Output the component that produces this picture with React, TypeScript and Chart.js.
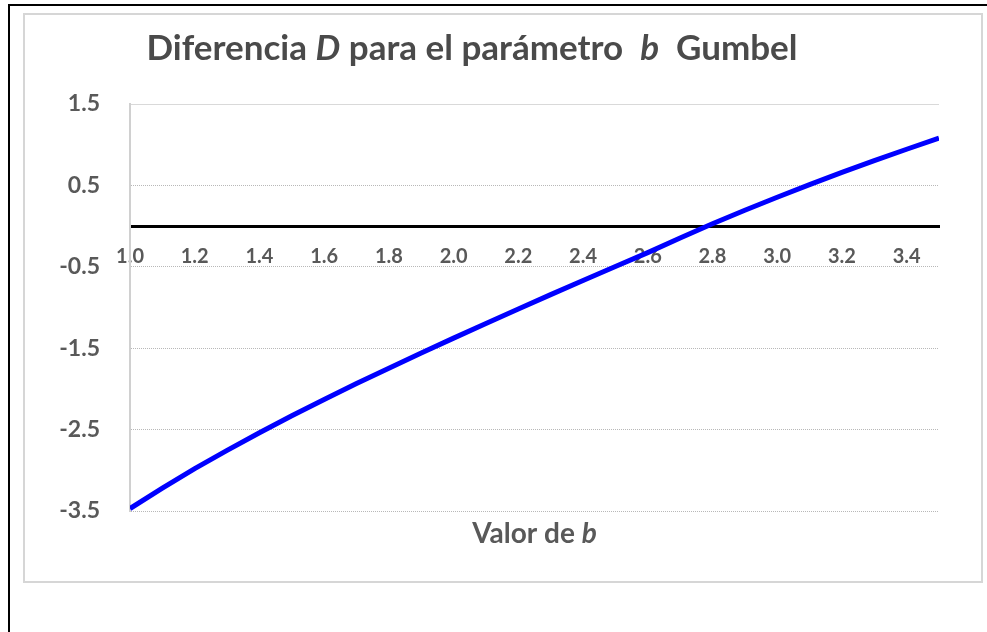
import React, { useEffect, useRef } from 'react';
import { Chart, registerables } from 'chart.js';

Chart.register(...registerables);

// ---- data ----
const bValues = [1.0, 1.1, 1.2, 1.3, 1.4, 1.5, 1.6, 1.7, 1.8, 1.9, 2.0, 2.1, 2.2, 2.3, 2.4, 2.5, 2.6, 2.7, 2.8, 2.9, 3.0, 3.1, 3.2, 3.3, 3.4, 3.5];
const dValues = [-3.47, -3.22, -2.98, -2.755, -2.538, -2.33, -2.13, -1.935, -1.745, -1.559, -1.376, -1.196, -1.018, -0.842, -0.668, -0.496, -0.326, -0.146, 0.029, 0.194, 0.354, 0.509, 0.659, 0.804, 0.944, 1.08];

const xMin = 1.0;
const xMax = 3.5;
const xStep = 0.2;
const yMin = -3.5;
const yMax = 1.5;
const yStep = 1;

const titleParts = [
  { text: 'Diferencia ', italic: false },
  { text: 'D', italic: true },
  { text: ' para el parámetro  ', italic: false },
  { text: 'b', italic: true },
  { text: '  Gumbel', italic: false },
];
const axisTitleParts = [
  { text: 'Valor de ', italic: false },
  { text: 'b', italic: true },
];

const FONT = 'Lato, "Open Sans", sans-serif';
const TEXT_COLOR = '#595959';

function drawParts(ctx: CanvasRenderingContext2D, parts: { text: string; italic: boolean }[], cx: number, baseline: number, size: number, color: string) {
  const fontFor = (it: boolean) => `${it ? 'italic ' : ''}bold ${size}px ${FONT}`;
  let total = 0;
  const widths = parts.map((p) => {
    ctx.font = fontFor(p.italic);
    const w = ctx.measureText(p.text).width;
    total += w;
    return w;
  });
  let x = cx - total / 2;
  ctx.fillStyle = color;
  ctx.textBaseline = 'alphabetic';
  ctx.textAlign = 'left';
  parts.forEach((p, i) => {
    ctx.font = fontFor(p.italic);
    ctx.fillText(p.text, x, baseline);
    x += widths[i];
  });
}

const decorPlugin = {
  id: 'decor',
  beforeDraw(chart: any) {
    const { ctx, width, height } = chart;
    ctx.save();
    ctx.fillStyle = '#ffffff';
    ctx.fillRect(0, 0, width, height);
    // outer black frame (top + left)
    ctx.fillStyle = '#000000';
    ctx.fillRect(8, 4, width - 8, 2);
    ctx.fillRect(8, 4, 2, height - 4);
    // inner chart-area frame
    ctx.strokeStyle = '#d6d6d6';
    ctx.lineWidth = 2;
    ctx.strokeRect(24, 14, 958, 568);
    ctx.restore();
  },
  afterDraw(chart: any) {
    const { ctx, chartArea } = chart;
    ctx.save();
    drawParts(ctx, titleParts, 472, 60, 35, '#4a4a4a');
    drawParts(ctx, axisTitleParts, (chartArea.left + chartArea.right) / 2, 543, 28, TEXT_COLOR);
    ctx.restore();
  },
};

export default function App() {
  const canvasRef = useRef<HTMLCanvasElement | null>(null);

  useEffect(() => {
    const canvas = canvasRef.current;
    if (!canvas) return;
    const points = bValues.map((b, i) => ({ x: b, y: dValues[i] }));
    const chart = new Chart(canvas, {
      type: 'scatter',
      data: {
        datasets: [
          {
            data: points,
            showLine: true,
            borderColor: '#0000ff',
            backgroundColor: '#0000ff',
            borderWidth: 5,
            pointRadius: 0,
            pointHoverRadius: 0,
            tension: 0,
          },
        ],
      },
      options: {
        responsive: false,
        animation: false,
        events: [],
        layout: { padding: { left: 0, top: 104, right: 48, bottom: 121 } },
        plugins: {
          legend: { display: false },
          tooltip: { enabled: false },
          title: { display: false },
        },
        scales: {
          x: {
            type: 'linear',
            position: { y: 0 } as any,
            min: xMin,
            max: xMax,
            afterFit: (scale: any) => {
              scale.height = 0;
            },
            ticks: {
              stepSize: xStep,
              includeBounds: false,
              autoSkip: false,
              maxRotation: 0,
              minRotation: 0,
              padding: 18,
              color: TEXT_COLOR,
              font: { family: FONT, size: 20, weight: 'bold' },
              callback: (v: any) => Number(v).toFixed(1),
            },
            grid: { display: false, drawTicks: false },
            border: { display: true, color: '#000000', width: 3 },
          },
          y: {
            type: 'linear',
            position: 'left',
            min: yMin,
            max: yMax,
            afterFit: (scale: any) => {
              scale.width = 130;
            },
            ticks: {
              stepSize: yStep,
              padding: 30,
              color: TEXT_COLOR,
              font: { family: FONT, size: 23, weight: 'bold' },
              callback: (v: any) => Number(v).toFixed(1),
            },
            grid: {
              drawTicks: false,
              lineWidth: 1,
              color: (c: any) => (c.tick && c.tick.value === yMax ? '#d9d9d9' : '#b8b8b8'),
            },
            border: {
              display: true,
              color: '#d0d0d0',
              width: 2,
              dash: (c: any) => (c.tick && c.tick.value === yMax ? [] : [1, 1]),
            } as any,
          },
        },
      },
      plugins: [decorPlugin],
    } as any);
    return () => chart.destroy();
  }, []);

  return (
    <div style={{ position: 'absolute', left: 0, top: 0, width: 987, height: 632, background: '#fff' }}>
      <canvas ref={canvasRef} width={987} height={632} style={{ display: 'block' }} />
    </div>
  );
}
